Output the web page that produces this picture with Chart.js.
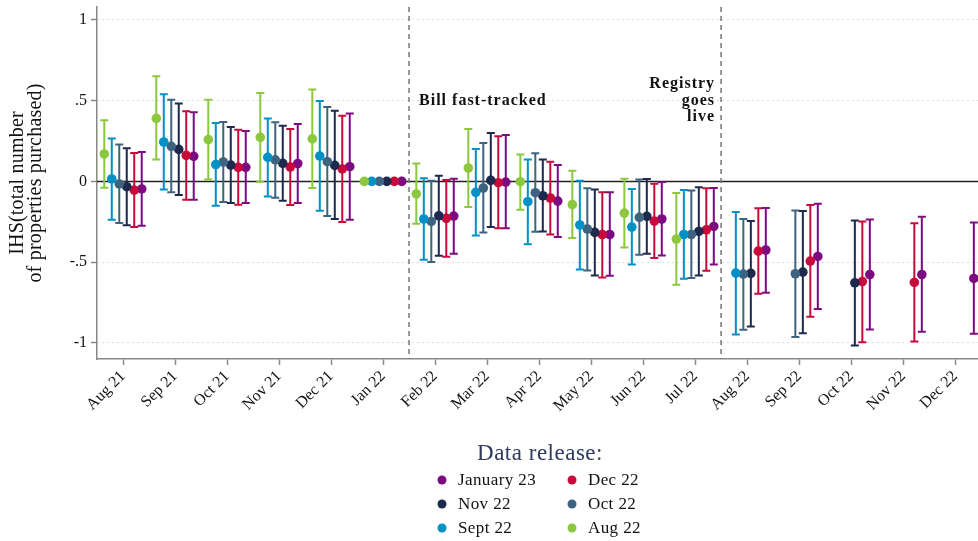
<!DOCTYPE html>
<html>
<head>
<meta charset="utf-8">
<script src="https://cdn.jsdelivr.net/npm/chart.js@4.4.0/dist/chart.umd.min.js"></script>
<style>
  html, body { margin: 0; padding: 0; background: #fff; }
  #wrap { width: 978px; height: 541px; }
</style>
</head>
<body>
<div id="wrap"><canvas id="chart" width="978" height="541"></canvas></div>
<script>
// Months on the x axis
const months = ['Aug 21', 'Sep 21', 'Oct 21', 'Nov 21', 'Dec 21', 'Jan 22', 'Feb 22', 'Mar 22',
  'Apr 22', 'May 22', 'Jun 22', 'Jul 22', 'Aug 22', 'Sep 22', 'Oct 22', 'Nov 22', 'Dec 22'];
const yTicks = [-1, -0.5, 0, 0.5, 1];
const yTickLabels = ['-1', '-.5', '0', '.5', '1'];

// Events (between months) and their labels
const eventMonths = [5.5, 11.5];
const eventLabels = [['Bill fast-tracked'], ['Registry', 'goes', 'live']];

// Estimates per data release (null = not estimated)
const aug22Est = [0.17, 0.39, 0.259, 0.273, 0.263, 0, -0.078, 0.083, -0.002, -0.144, -0.196, -0.357, null, null, null, null, null];
const aug22Lo = [-0.039, 0.135, 0.011, -0.002, -0.041, null, -0.262, -0.159, -0.175, -0.351, -0.409, -0.64, null, null, null, null, null];
const aug22Hi = [0.378, 0.651, 0.506, 0.548, 0.569, null, 0.11, 0.325, 0.167, 0.066, 0.017, -0.072, null, null, null, null, null];

const sep22Est = [0.015, 0.244, 0.104, 0.149, 0.157, 0, -0.233, -0.068, -0.126, -0.27, -0.283, -0.329, -0.568, null, null, null, null];
const sep22Lo = [-0.237, -0.051, -0.151, -0.093, -0.182, null, -0.485, -0.335, -0.39, -0.546, -0.515, -0.603, -0.948, null, null, null, null];
const sep22Hi = [0.265, 0.539, 0.362, 0.39, 0.498, null, 0.019, 0.201, 0.135, 0.004, -0.047, -0.053, -0.19, null, null, null, null];

const oct22Est = [-0.016, 0.217, 0.12, 0.133, 0.122, 0, -0.248, -0.041, -0.07, -0.295, -0.223, -0.329, -0.574, -0.572, null, null, null];
const oct22Lo = [-0.258, -0.068, -0.128, -0.101, -0.215, null, -0.5, -0.316, -0.312, -0.552, -0.454, -0.599, -0.919, -0.963, null, null, null];
const oct22Hi = [0.228, 0.506, 0.368, 0.366, 0.461, null, 0.004, 0.238, 0.174, -0.043, 0.011, -0.056, -0.233, -0.18, null, null, null];

const nov22Est = [-0.033, 0.198, 0.101, 0.112, 0.099, 0, -0.213, 0.006, -0.089, -0.316, -0.217, -0.31, -0.57, -0.562, -0.628, null, null];
const nov22Lo = [-0.272, -0.085, -0.134, -0.12, -0.233, null, -0.461, -0.283, -0.31, -0.583, -0.448, -0.583, -0.899, -0.94, -1.017, null, null];
const nov22Hi = [0.205, 0.482, 0.337, 0.345, 0.438, null, 0.035, 0.3, 0.135, -0.051, 0.015, -0.037, -0.246, -0.184, -0.242, null, null];

const dec22Est = [-0.054, 0.161, 0.087, 0.089, 0.077, 0, -0.229, -0.008, -0.103, -0.33, -0.246, -0.3, -0.432, -0.494, -0.62, -0.626, null];
const dec22Lo = [-0.283, -0.113, -0.144, -0.146, -0.252, null, -0.467, -0.291, -0.329, -0.595, -0.475, -0.554, -0.696, -0.839, -0.996, -0.992, null];
const dec22Hi = [0.176, 0.434, 0.32, 0.325, 0.407, null, 0.008, 0.279, 0.122, -0.068, -0.014, -0.043, -0.167, -0.146, -0.248, -0.26, null];

const jan23Est = [-0.047, 0.155, 0.087, 0.11, 0.091, 0, -0.215, -0.004, -0.122, -0.329, -0.233, -0.279, -0.425, -0.465, -0.577, -0.577, -0.601];
const jan23Lo = [-0.275, -0.113, -0.134, -0.134, -0.237, null, -0.448, -0.291, -0.345, -0.585, -0.459, -0.515, -0.69, -0.791, -0.917, -0.932, -0.944];
const jan23Hi = [0.182, 0.428, 0.312, 0.356, 0.42, null, 0.017, 0.288, 0.102, -0.068, -0.004, -0.041, -0.165, -0.138, -0.236, -0.219, -0.254];

const series = [
  { label: 'Aug 22', est: aug22Est, lo: aug22Lo, hi: aug22Hi, color: '#8DC63F' },
  { label: 'Sept 22', est: sep22Est, lo: sep22Lo, hi: sep22Hi, color: '#0291C6' },
  { label: 'Oct 22', est: oct22Est, lo: oct22Lo, hi: oct22Hi, color: '#3E6380' },
  { label: 'Nov 22', est: nov22Est, lo: nov22Lo, hi: nov22Hi, color: '#1D2A4E' },
  { label: 'Dec 22', est: dec22Est, lo: dec22Lo, hi: dec22Hi, color: '#C8093B' },
  { label: 'January 23', est: jan23Est, lo: jan23Lo, hi: jan23Hi, color: '#7C0A80' }
];
const legendRows = [['January 23', 'Dec 22'], ['Nov 22', 'Oct 22'], ['Sept 22', 'Aug 22']];

const FONT = "'Liberation Serif', 'Times New Roman', serif";
Chart.defaults.font.family = FONT;
Chart.defaults.color = '#111';

// Build datasets, dodging each release within a month
const datasets = series.map((s, k) => {
  const dodge = (k - 2.5) * 0.144;
  const data = [];
  s.est.forEach((v, i) => {
    if (v === null) return;
    data.push({ x: i + dodge, y: v, lo: s.lo[i], hi: s.hi[i] });
  });
  return {
    label: s.label,
    data: data,
    backgroundColor: s.color,
    borderColor: s.color,
    pointRadius: 4.8,
    pointBorderWidth: 0,
    pointHoverRadius: 4.8
  };
});

// Zero line, event lines, error bars, annotations, legend, y title
const extras = {
  id: 'extras',
  beforeDatasetsDraw(chart) {
    const { ctx, chartArea, scales: { x, y } } = chart;
    ctx.save();
    // zero line
    const y0 = y.getPixelForValue(0);
    ctx.strokeStyle = '#222';
    ctx.lineWidth = 1.5;
    ctx.beginPath();
    ctx.moveTo(chartArea.left, y0);
    ctx.lineTo(chartArea.right, y0);
    ctx.stroke();
    // event lines
    ctx.strokeStyle = '#777';
    ctx.setLineDash([5, 4]);
    eventMonths.forEach(m => {
      const px = x.getPixelForValue(m);
      ctx.beginPath();
      ctx.moveTo(px, chartArea.top);
      ctx.lineTo(px, chartArea.bottom);
      ctx.stroke();
    });
    ctx.setLineDash([]);
    // error bars
    ctx.lineWidth = 2;
    chart.data.datasets.forEach(ds => {
      ctx.strokeStyle = ds.borderColor;
      ds.data.forEach(p => {
        if (p.lo === null || p.hi === null) return;
        const px = x.getPixelForValue(p.x);
        const yl = y.getPixelForValue(p.lo);
        const yh = y.getPixelForValue(p.hi);
        ctx.beginPath();
        ctx.moveTo(px, yl); ctx.lineTo(px, yh);
        ctx.moveTo(px - 4, yl); ctx.lineTo(px + 4, yl);
        ctx.moveTo(px - 4, yh); ctx.lineTo(px + 4, yh);
        ctx.stroke();
      });
    });
    ctx.restore();
  },
  afterDraw(chart) {
    const { ctx, chartArea, scales: { x, y } } = chart;
    ctx.save();
    // event annotations
    ctx.fillStyle = '#111';
    ctx.font = 'bold 16px ' + FONT;
    ctx.letterSpacing = '1px';
    ctx.textBaseline = 'middle';
    const yMid = y.getPixelForValue(0.5);
    ctx.textAlign = 'left';
    ctx.fillText(eventLabels[0][0], x.getPixelForValue(eventMonths[0]) + 10, yMid);
    ctx.textAlign = 'right';
    eventLabels[1].forEach((t, i) => {
      ctx.fillText(t, x.getPixelForValue(eventMonths[1]) - 6, yMid + (i - 1) * 16.5);
    });

    // y axis title
    ctx.save();
    ctx.letterSpacing = '0.2px';
    ctx.textBaseline = 'alphabetic';
    ctx.translate(32, (chartArea.top + chartArea.bottom) / 2);
    ctx.rotate(-Math.PI / 2);
    ctx.textAlign = 'center';
    ctx.font = '20px ' + FONT;
    ctx.fillText('IHS(total number', 0, -9);
    ctx.fillText('of properties purchased)', 0, 9);
    ctx.restore();

    // legend
    ctx.textAlign = 'center';
    ctx.fillStyle = '#2E3A5E';
    ctx.font = '23px ' + FONT;
    ctx.letterSpacing = '0.5px';
    ctx.fillText('Data release:', 540, 454);
    ctx.font = '17px ' + FONT;
    ctx.letterSpacing = '0.4px';
    ctx.textAlign = 'left';
    const colMarker = [442, 572];
    const colText = [458, 588];
    legendRows.forEach((row, r) => {
      row.forEach((lab, c) => {
        const s = series.find(d => d.label === lab);
        const ly = 480 + r * 24;
        ctx.fillStyle = s.color;
        ctx.beginPath();
        ctx.arc(colMarker[c], ly, 4.5, 0, Math.PI * 2);
        ctx.fill();
        ctx.fillStyle = '#111';
        ctx.fillText(lab, colText[c], ly + 1);
      });
    });
    ctx.restore();
  }
};

new Chart(document.getElementById('chart'), {
  type: 'scatter',
  data: { datasets: datasets },
  plugins: [extras],
  options: {
    responsive: false,
    animation: false,
    layout: { autoPadding: false, padding: { top: 7, right: 0, left: 0, bottom: 0 } },
    plugins: { legend: { display: false }, tooltip: { enabled: false } },
    scales: {
      x: {
        type: 'linear',
        min: -0.5,
        max: 16.44,
        afterFit: scale => {
          scale.height = 182;
          scale.paddingLeft = 0;
          scale.paddingRight = 0;
        },
        afterBuildTicks: scale => { scale.ticks = months.map((m, i) => ({ value: i })); },
        ticks: {
          autoSkip: false,
          minRotation: 45,
          maxRotation: 45,
          padding: 2,
          font: { size: 16 },
          color: '#111',
          callback: v => months[v]
        },
        grid: { drawOnChartArea: false, tickLength: 6, tickColor: '#888', tickWidth: 1.5 },
        border: { color: '#888', width: 1.5 }
      },
      y: {
        min: -1.1,
        max: 1.08,
        afterFit: scale => {
          scale.width = 97;
          scale.paddingTop = 0;
          scale.paddingBottom = 0;
        },
        afterBuildTicks: scale => { scale.ticks = yTicks.map(v => ({ value: v })); },
        ticks: {
          padding: 4,
          font: { size: 16 },
          color: '#111',
          callback: v => yTickLabels[yTicks.indexOf(v)]
        },
        grid: {
          color: c => (c.tick && c.tick.value === 0) ? 'rgba(0,0,0,0)' : '#bbb',
          lineWidth: 1,
          tickLength: 6,
          tickColor: '#888',
          tickWidth: 1.5
        },
        border: { color: '#888', width: 1.5, dash: [1, 4] }
      }
    }
  }
});
</script>
</body>
</html>
